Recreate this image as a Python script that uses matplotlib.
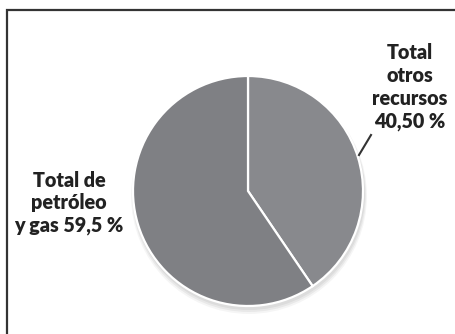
import matplotlib
matplotlib.use("Agg")
import matplotlib.pyplot as plt
from matplotlib.patches import Rectangle, Circle

categories = ["Total otros recursos", "Total de petróleo y gas"]
values = [40.50, 59.5]
label_texts = ["Total\notros\nrecursos\n40,50 %", "Total de\npetróleo\ny gas 59,5 %"]
colors = ["#88898d", "#7f8084"]

W, H = 455, 334
fig = plt.figure(figsize=(W / 100, H / 100), dpi=100)
ax = fig.add_axes([0, 0, 1, 1])

cx, cy, r = 248, H - 191, 115

# subtle shadow
for i, a in enumerate([0.05, 0.05, 0.04]):
    ax.add_patch(Circle((cx + 1, cy - 3 - i), r + 1 + i, color="black", alpha=a, lw=0, zorder=0))

ax.pie(values, colors=colors, startangle=90, counterclock=False,
       center=(cx, cy), radius=r,
       wedgeprops=dict(edgecolor="white", linewidth=1.6))

# border
ax.add_patch(Rectangle((7, -30), 520, H - 10 + 30, fill=False, ec="#333333", lw=1.6, zorder=5))

font = dict(family=["Lato", "DejaVu Sans"], fontweight="heavy", fontsize=14.2, color="#222222")
ax.text(410, H - 87, label_texts[0], ha="center", va="center", linespacing=1.22, **font)
ax.text(69, H - 203, label_texts[1], ha="center", va="center", linespacing=1.22, **font)

# leader line
ax.plot([371, 359], [H - 135, H - 155], color="#333333", lw=1.5)

ax.set_xlim(0, W)
ax.set_ylim(0, H)
ax.set_aspect("equal")
ax.axis("off")

fig.savefig("out.png", dpi=100)
